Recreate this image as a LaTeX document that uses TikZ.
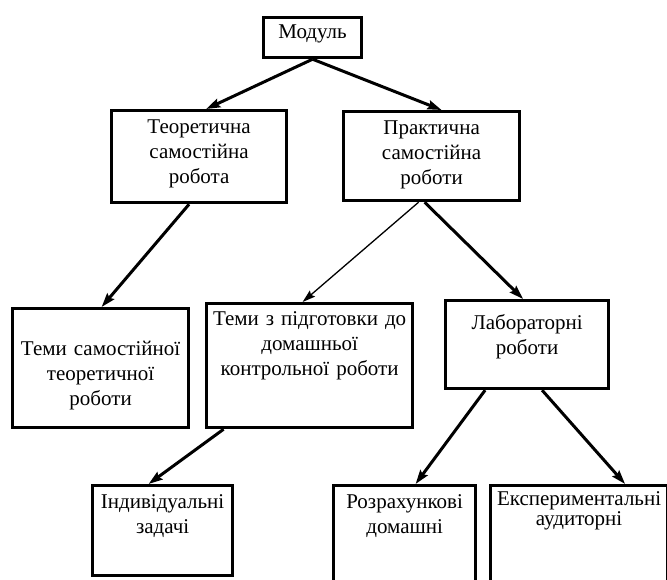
\documentclass[tikz,border=0pt]{standalone}
\usepackage{fontspec}
\setmainfont{Liberation Serif}
\usetikzlibrary{arrows.meta}
\begin{document}
\begin{tikzpicture}[x=1pt, y=-1pt,
    blok/.style={draw, line width=3.2pt, inner sep=0pt, align=center, anchor=north west, font=\fontsize{21}{25}\selectfont},
    strilka/.style={-{Stealth[length=14pt, width=9pt, inset=2pt]}, line width=3pt},
    tonka/.style={-{Stealth[length=13pt, width=8pt, inset=2pt]}, line width=1.3pt}]
    \useasboundingbox (0,0) rectangle (667,579);

    % Top
    \node[blok, text width=98pt, text height=21pt, text depth=19pt] (modul) at (262,16) {Модуль};

    % Second row
    \node[blok, text width=175pt, text height=23pt, text depth=69pt] (teor) at (110,109) {Теоретична\\самостійна\\робота};
    \node[blok, text width=176pt, text height=23pt, text depth=66pt] (prakt) at (342,110) {Практична\\самостійна\\роботи};

    % Third row
    \node[blok, text width=176pt, text height=47pt, text depth=72pt] (temsam) at (11,307) {Теми самостійної\\теоретичної\\роботи};
    \node[blok, text width=206pt, text height=22pt, text depth=102pt] (temz) at (205,302) {Теми з підготовки до\\домашньої\\контрольної роботи};
    \node[blok, text width=163pt, text height=29pt, text depth=59pt] (lab) at (444,299) {Лабораторні\\роботи};

    % Bottom row
    \node[blok, text width=140pt, text height=23pt, text depth=67pt] (indyv) at (91,484) {Індивідуальні\\задачі};
    \node[blok, text width=142pt, text height=23pt, text depth=76pt] (rozr) at (332,484) {Розрахункові\\домашні};
    \node[blok, text width=177pt, text height=20pt, text depth=76pt, font=\fontsize{21}{20}\selectfont] (eksp) at (489,484) {Експериментальні\\аудиторні};

    % Arrows
    \draw[strilka] (modul.south) -- ([xshift=7pt]teor.north);
    \draw[strilka] (modul.south) -- ([xshift=10pt]prakt.north);
    \draw[strilka] ([xshift=-10pt]teor.south) -- ([xshift=1pt]temsam.north);
    \draw[tonka] ([xshift=-13pt]prakt.south) -- ([xshift=-7pt]temz.north);
    \draw[strilka] ([xshift=-7pt]prakt.south) -- ([xshift=-4pt]lab.north);
    \draw[strilka] ([xshift=-86pt]temz.south) -- ([xshift=-14pt]indyv.north);
    \draw[strilka] ([xshift=-42pt]lab.south) -- ([xshift=11pt]rozr.north);
    \draw[strilka] ([xshift=15pt]lab.south) -- ([xshift=46pt]eksp.north);
\end{tikzpicture}
\end{document}
